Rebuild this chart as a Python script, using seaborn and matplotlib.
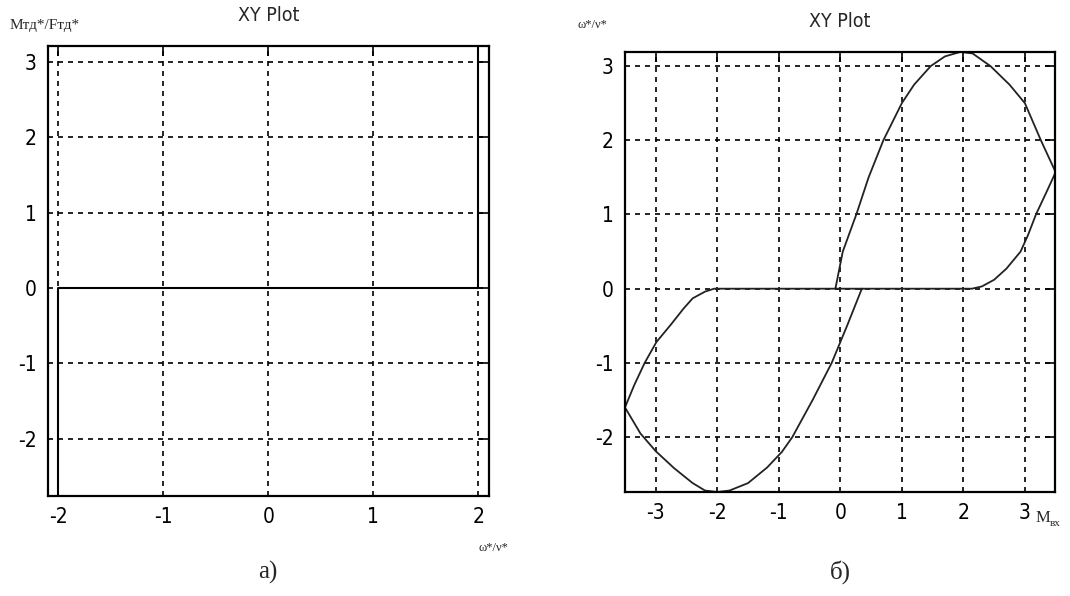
import numpy as np
import pandas as pd
import seaborn as sns
import matplotlib.pyplot as plt

# panel a: relay characteristic
rele_x = [-2.0, -2.0, 2.0, 2.0]
rele_y = [-3.5, 0.0, 0.0, 3.5]

# panel b: loop characteristic, points in path order
lazo_x = [-0.08, 0.04, 0.26, 0.46, 0.70, 1.00, 1.20, 1.47, 1.70, 1.95, 2.15, 2.44,
          2.75, 3.00, 3.26, 3.50, 3.35, 3.18, 3.05, 2.93, 2.70, 2.50, 2.30, 2.14, -2.05,
          -2.20, -2.40, -2.55, -2.75, -2.99, -3.18, -3.35, -3.50, -3.25, -3.00, -2.70,
          -2.40, -2.20, -2.00, -1.80, -1.50, -1.19, -0.95, -0.78, -0.45, -0.14, 0.11, 0.35]
lazo_y = [0.00, 0.50, 1.00, 1.50, 2.00, 2.50, 2.75, 3.00, 3.13, 3.19, 3.17, 3.00,
          2.75, 2.50, 2.00, 1.57, 1.30, 1.00, 0.72, 0.50, 0.27, 0.12, 0.03, 0.00, 0.00,
          -0.04, -0.13, -0.27, -0.48, -0.72, -1.00, -1.30, -1.60, -1.95, -2.19, -2.42,
          -2.62, -2.72, -2.74, -2.72, -2.62, -2.41, -2.20, -2.00, -1.50, -1.00, -0.50, 0.00]

xticks_a = [-2, -1, 0, 1, 2]
yticks_a = [-2, -1, 0, 1, 2, 3]
xticks_b = [-3, -2, -1, 0, 1, 2, 3]
yticks_b = [-2, -1, 0, 1, 2, 3]

sns.set_style('white')
plt.rcParams['font.family'] = ['DejaVu Sans']
plt.rcParams['font.stretch'] = 'condensed'
plt.rcParams['axes.unicode_minus'] = False

fig = plt.figure(figsize=(10.7, 5.96), dpi=100)
ax1 = fig.add_axes([0.0449, 0.1678, 0.4121, 0.755])
ax2 = fig.add_axes([0.5841, 0.1745, 0.4019, 0.7383])

df_a = pd.DataFrame({'x': rele_x, 'y': rele_y})
df_b = pd.DataFrame({'x': lazo_x, 'y': lazo_y})

sns.lineplot(data=df_a, x='x', y='y', sort=False, estimator=None, color='black', lw=1.5, ax=ax1)
sns.lineplot(data=df_b, x='x', y='y', sort=False, estimator=None, color='#222222', lw=1.3, ax=ax2)

ax1.set_xlim(-2.095, 2.10)
ax1.set_ylim(-2.76, 3.21)
ax1.set_xticks(xticks_a)
ax1.set_yticks(yticks_a)
ax2.set_xlim(-3.5, 3.49)
ax2.set_ylim(-2.74, 3.19)
ax2.set_xticks(xticks_b)
ax2.set_yticks(yticks_b)

for ax in (ax1, ax2):
    ax.set_xlabel('')
    ax.set_ylabel('')
    ax.grid(True, color='black', linestyle=(0, (3, 3)), lw=1.2)
    ax.set_axisbelow(True)
    ax.tick_params(direction='in', length=7, width=1.2, top=True, right=True,
                   labelsize=15, pad=8, colors='black')
    for s in ax.spines.values():
        s.set_color('black')
        s.set_linewidth(1.6)
    ax.set_title('XY Plot', fontsize=14, pad=18, fontweight='medium')

# axis captions
fig.text(10 / 1070, 1 - 25 / 596, 'Mтд*/Fтд*', family='Liberation Serif', fontsize=11, va='center')
fig.text(478 / 1070, 1 - 548 / 596, 'ω*/ν*', family='Liberation Serif', fontsize=9, va='center')
fig.text(578 / 1070, 1 - 25 / 596, 'ω*/ν*', family='Liberation Serif', fontsize=9, va='center')
fig.text(1036 / 1070, 1 - 518 / 596, 'M', family='Liberation Serif', fontsize=12, va='center')
fig.text(1050 / 1070, 1 - 523 / 596, 'вх', family='Liberation Serif', fontsize=8, va='center')

fig.text(268 / 1070, 1 - 572 / 596, 'а)', family='Liberation Serif', fontsize=18, ha='center', va='center')
fig.text(840 / 1070, 1 - 572 / 596, 'б)', family='Liberation Serif', fontsize=18, ha='center', va='center')

fig.savefig('out.png', dpi=100)
